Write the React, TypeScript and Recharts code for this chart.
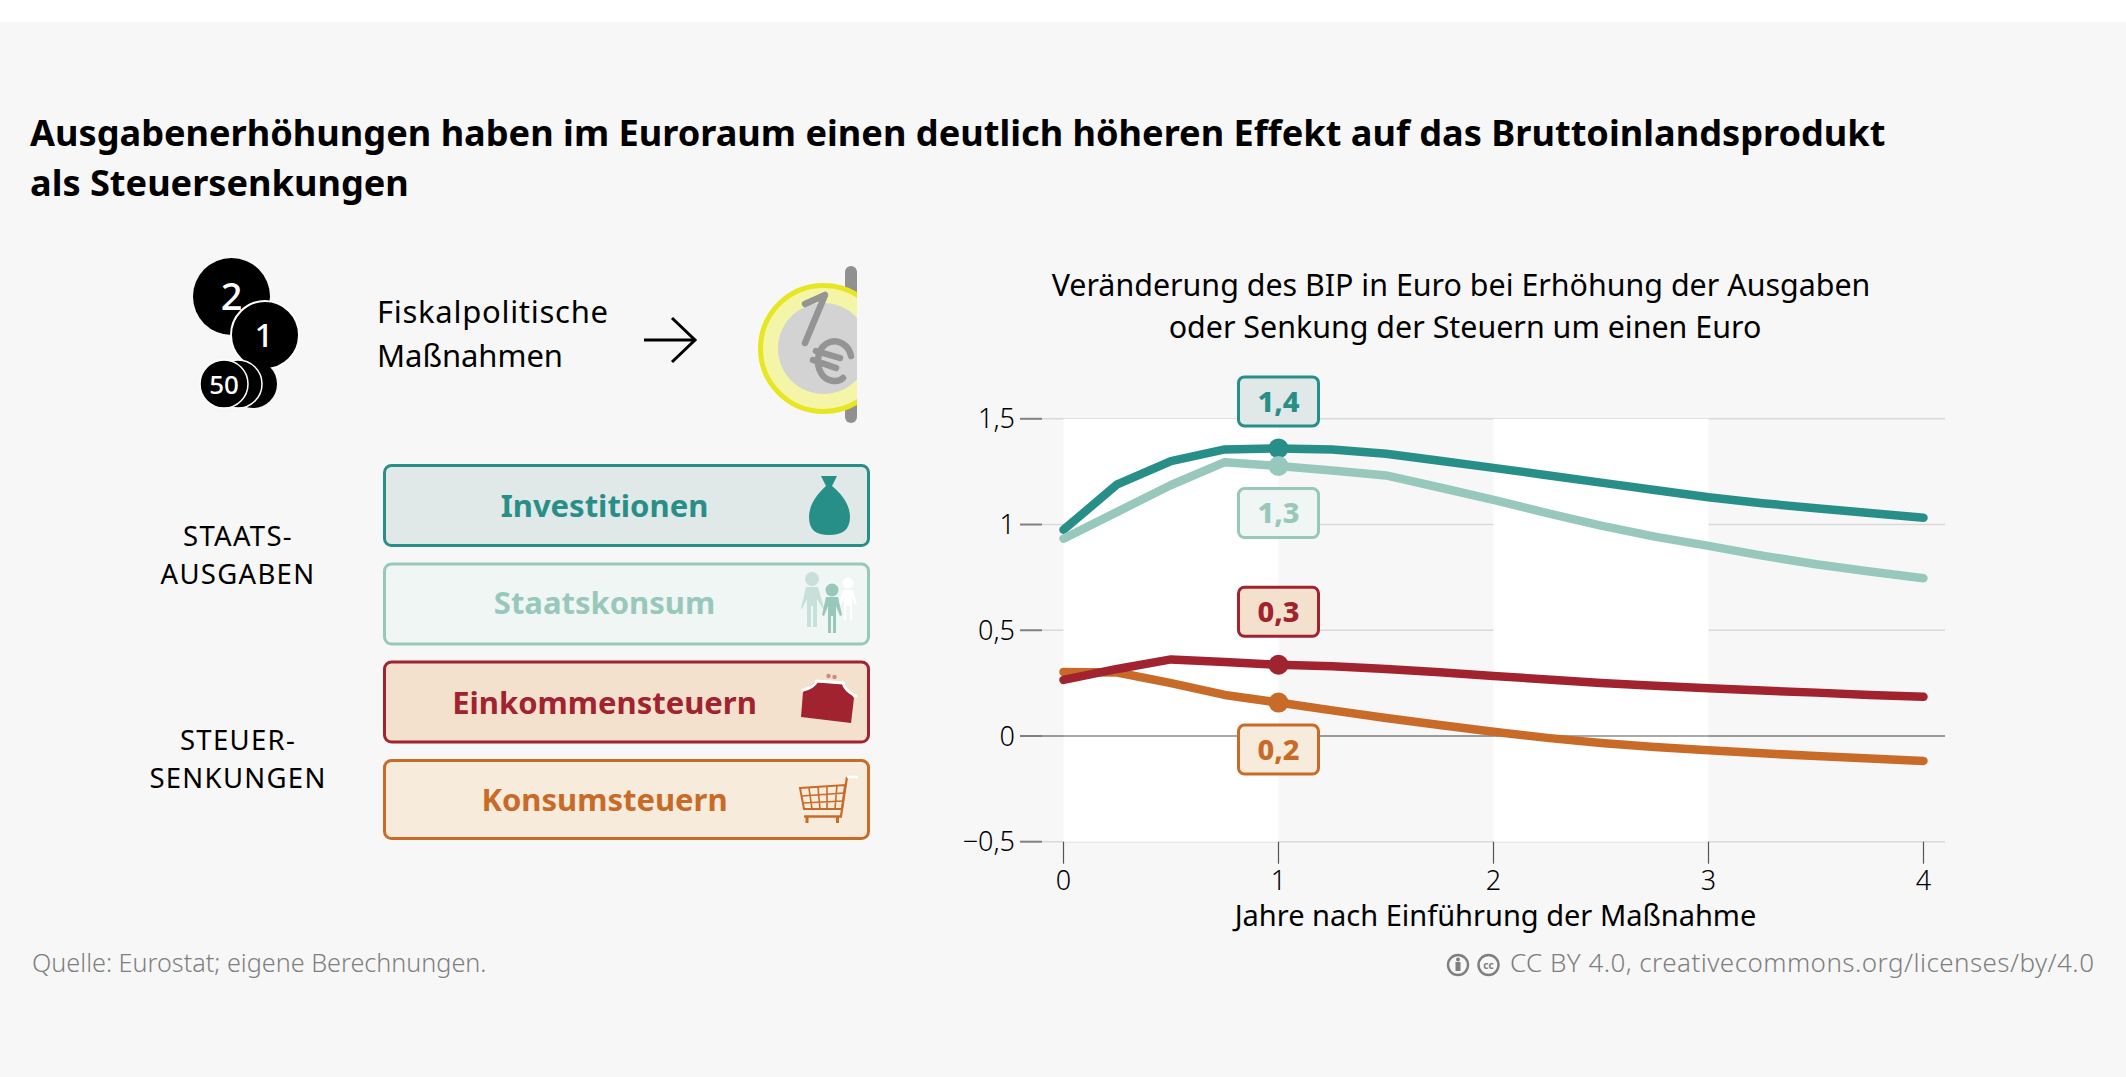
import React from "react";
import { ComposedChart, Line, XAxis, YAxis, CartesianGrid, ReferenceArea, ReferenceLine, Label } from "recharts";

const years = [0, 0.25, 0.5, 0.75, 1, 1.25, 1.5, 1.75, 2, 2.25, 2.5, 2.75, 3, 3.25, 3.5, 3.75, 4];
const investitionen = [0.975, 1.19, 1.3, 1.355, 1.36, 1.355, 1.335, 1.302, 1.268, 1.233, 1.198, 1.163, 1.129, 1.101, 1.077, 1.054, 1.032];
const staatskonsum = [0.933, 1.06, 1.187, 1.295, 1.277, 1.255, 1.232, 1.175, 1.117, 1.054, 0.995, 0.943, 0.899, 0.853, 0.812, 0.778, 0.746];
const einkommensteuern = [0.265, 0.317, 0.362, 0.35, 0.337, 0.33, 0.317, 0.301, 0.284, 0.267, 0.251, 0.238, 0.226, 0.215, 0.205, 0.194, 0.185];
const konsumsteuern = [0.303, 0.3, 0.25, 0.194, 0.158, 0.121, 0.085, 0.052, 0.02, -0.009, -0.033, -0.052, -0.068, -0.082, -0.095, -0.107, -0.118];
const xTicks = [0, 1, 2, 3, 4];
const yTicks = [-0.5, 0, 0.5, 1, 1.5];
const whiteBands = [[0, 1], [2, 3]];

const data = years.map((x, i) => ({
  x,
  investitionen: investitionen[i],
  staatskonsum: staatskonsum[i],
  einkommensteuern: einkommensteuern[i],
  konsumsteuern: konsumsteuern[i],
}));

const seriesDefs = [
  { key: "investitionen", name: "Investitionen", color: "#288f88", fill: "#e0e8e8", callout: "1,4", offset: -47 },
  { key: "staatskonsum", name: "Staatskonsum", color: "#97c8bb", fill: "#f0f6f4", callout: "1,3", offset: 47 },
  { key: "konsumsteuern", name: "Konsumsteuern", color: "#c96b28", fill: "#f7ebdc", callout: "0,2", offset: 47 },
  { key: "einkommensteuern", name: "Einkommensteuern", color: "#a0232f", fill: "#f4e1cd", callout: "0,3", offset: -53 },
];

const FONT = "'Noto Sans', sans-serif";

const legendRows = [
  { name: "Investitionen", color: "#288f88", fill: "#e0e8e8", y: 465.5, h: 80, ty: 516.5 },
  { name: "Staatskonsum", color: "#97c8bb", fill: "#f0f6f4", y: 564, h: 80, ty: 614 },
  { name: "Einkommensteuern", color: "#a0232f", fill: "#f4e1cd", y: 662, h: 80, ty: 714 },
  { name: "Konsumsteuern", color: "#c96b28", fill: "#f7ebdc", y: 760.5, h: 78, ty: 811 },
];

const sideLabels = [
  { text: "STAATS-", y: 545.5 },
  { text: "AUSGABEN", y: 583.5 },
  { text: "STEUER-", y: 750 },
  { text: "SENKUNGEN", y: 788 },
];

const makeDot = (color: string) => (props: any) => {
  const { cx, cy, index } = props;
  if (years[index] !== 1) return <g key={index} />;
  return <circle key={index} cx={cx} cy={cy} r={10} fill={color} />;
};

const makeLabel = (s: any) => (props: any) => {
  const { x, y, index } = props;
  if (years[index] !== 1) return <g key={index} />;
  const cy = y + s.offset;
  return (
    <g key={index}>
      <rect x={x - 40} y={cy - 24.5} width={80} height={49} rx={6} fill={s.fill} stroke={s.color} strokeWidth={3} />
      <text x={x} y={cy + 10.5} textAnchor="middle" fontFamily={FONT} fontWeight={800} fontSize={29} fill={s.color}>{s.callout}</text>
    </g>
  );
};

const fmt = (v: number) => (v < 0 ? "\u2212" : "") + String(Math.abs(v)).replace(".", ",");

function Decor() {
  return (
    <svg width={2126} height={1077} style={{ position: "absolute", left: 0, top: 0 }} fontFamily={FONT}>
      <rect x={0} y={22} width={2126} height={1055} fill="#f7f7f7" />
      <g fontWeight={700} fontSize={36.15} fill="#000">
        <text x={30} y={146}>Ausgabenerhöhungen haben im Euroraum einen deutlich höheren Effekt auf das Bruttoinlandsprodukt</text>
        <text x={30} y={196}>als Steuersenkungen</text>
      </g>
      <g fontWeight={400} fontSize={30.4} fill="#000" textAnchor="middle">
        <text x={1461} y={296}>Veränderung des BIP in Euro bei Erhöhung der Ausgaben</text>
        <text x={1465} y={338}>oder Senkung der Steuern um einen Euro</text>
      </g>

      {/* coins */}
      <g fontWeight={500} fill="#fff" textAnchor="middle">
        <circle cx={231.5} cy={296.5} r={38.5} fill="#000" />
        <text x={231.5} y={310} fontSize={38}>2</text>
        <circle cx={265} cy={335} r={34} fill="#000" stroke="#fff" strokeWidth={2} />
        <text x={264} y={347} fontSize={33}>1</text>
        <circle cx={253} cy={384} r={24} fill="#000" />
        <circle cx={238} cy={384} r={24} fill="#000" stroke="#fff" strokeWidth={1.5} />
        <circle cx={224} cy={384} r={24} fill="#000" stroke="#fff" strokeWidth={1.5} />
        <text x={224} y={394} fontSize={26}>50</text>
      </g>

      <g fontWeight={400} fontSize={31} fill="#000">
        <text x={377} y={323} textLength={231} lengthAdjust="spacing">Fiskalpolitische</text>
        <text x={377} y={367} textLength={186} lengthAdjust="spacing">Maßnahmen</text>
      </g>
      <path d="M644 340 H695 M672 318 L695 340 L672 362" fill="none" stroke="#000" strokeWidth={3} />

      {/* euro coin */}
      <rect x={845} y={266} width={12} height={157} rx={6} fill="#909090" />
      <clipPath id="coinClip"><rect x={740} y={260} width={117} height={170} /></clipPath>
      <g clipPath="url(#coinClip)">
        <circle cx={823.5} cy={348.5} r={63} fill="#f5f5a8" stroke="#e6e623" strokeWidth={5} />
        <circle cx={823.5} cy={348.5} r={45.5} fill="#d3d3d3" />
        <path d="M805 304 L825 295 L805 343" fill="none" stroke="#949494" strokeWidth={6.5} strokeLinecap="round" strokeLinejoin="round" />
        <path d="M851 356 C849 345 838 339 830 342 C818 346 815 362 821 373 C826 382 838 383 843 378 M816 351 L840 358 M813 360 L836 368" fill="none" stroke="#949494" strokeWidth={6.5} strokeLinecap="round" />
      </g>

      {/* side labels */}
      <g fontWeight={400} fontSize={27.5} fill="#000" textAnchor="middle" letterSpacing={1.3}>
        {sideLabels.map((s) => <text key={s.text} x={238} y={s.y}>{s.text}</text>)}
      </g>

      {/* boxes */}
      {legendRows.map((r) => (
        <g key={r.name}>
          <rect x={384.5} y={r.y} width={484} height={r.h} rx={7} fill={r.fill} stroke={r.color} strokeWidth={3} />
          <text x={604.5} y={r.ty} textAnchor="middle" fontWeight={700} fontSize={31} fill={r.color}>{r.name}</text>
        </g>
      ))}

      {/* bag */}
      <path d="M821 476 H837 L832 486 C842 494 850 505 850 517 C850 530 842 535 829 535 C816 535 809 530 809 517 C809 505 817 494 826 486 Z" fill="#288f88" />

      {/* people */}
      <g fill="#fff">
        <circle cx={848} cy={583} r={5.5} />
        <path d="M843 590 H853 L857 604 L855 605 L852 597 V620 H850 V606 H846 V620 H844 V597 L841 605 L839 604 Z" />
      </g>
      <g fill="#c7e0da">
        <circle cx={812} cy={579} r={7} />
        <path d="M806 587 H818 L824 608 L823 609 L817 599 V627 H813 V606 H811 V627 H807 V599 L802 609 L801 608 Z" />
      </g>
      <g fill="#97c8bb">
        <circle cx={832} cy={590} r={6.5} />
        <path d="M826 597 H838 L842 615 L840 616 L836 606 V633 H833 V616 H831 V633 H828 V606 L824 616 L822 615 Z" />
      </g>

      {/* purse */}
      <path d="M803 692 L815 682 L843 684 L854 698 L851 723 L801 717 Z" fill="#a0232f" />
      <path d="M803 690 Q813 688 817 681 L843 683 Q845 691 856 696" fill="none" stroke="#fff" strokeWidth={3} strokeLinecap="round" />
      <circle cx={828.5} cy={676} r={2.2} fill="#c98b80" />
      <circle cx={834.5} cy={677} r={2.2} fill="#c98b80" />

      {/* cart */}
      <g fill="none" stroke="#c96b28" strokeWidth={1.6}>
        <path d="M800 788 L845 785 L842 809 L804 809 Z" strokeWidth={2} />
        <path d="M802 796 L844 793 M803 803 L843 801 M809 788 L812 809 M818 787 L820 809 M827 786 L827 809 M837 785 L835 809" />
        <path d="M841 816 L847 777" strokeWidth={2.2} />
        <path d="M804 816.5 H842" strokeWidth={2.4} />
        <path d="M807 817 V823 M837.5 817 V823" strokeWidth={3} />
      </g>
      <path d="M847 777 H858" stroke="#fff" strokeWidth={2.5} />

      {/* footer */}
      <text x={32} y={972} fontWeight={300} fontSize={25.2} fill="#7f7f7f">Quelle: Eurostat; eigene Berechnungen.</text>
      <g fill="none" stroke="#7f7f7f" strokeWidth={2.4}>
        <circle cx={1458} cy={965} r={10} />
        <circle cx={1488.5} cy={965} r={10} />
      </g>
      <circle cx={1458} cy={959.5} r={2} fill="#7f7f7f" />
      <rect x={1455.5} y={962} width={5} height={9} fill="#7f7f7f" />
      <text x={1488.5} y={968.5} textAnchor="middle" fontWeight={700} fontSize={10} fill="#7f7f7f">cc</text>
      <text x={1510} y={972} fontWeight={300} fontSize={26} fill="#7f7f7f" textLength={584} lengthAdjust="spacing">CC BY 4.0, creativecommons.org/licenses/by/4.0</text>
    </svg>
  );
}

export default function App() {
  const tick = { fontFamily: FONT, fontWeight: 300, fontSize: 27, fill: "#000" };
  return (
    <div style={{ position: "absolute", left: 0, top: 0, width: 2126, height: 1077, overflow: "hidden", background: "#fff" }}>
      <Decor />
      <div style={{ position: "absolute", left: 0, top: 0 }}>
        <ComposedChart width={2126} height={1077} data={data} margin={{ top: 418.8, right: 181, bottom: 145.3, left: 0 }}>
          {whiteBands.map(([a, b]) => (
            <ReferenceArea key={a} x1={a} x2={b} y1={-0.5} y2={1.5} fill="#ffffff" fillOpacity={1} stroke="none" />
          ))}
          <CartesianGrid vertical={false} stroke="#d9d9d9" strokeWidth={1.5} />
          <ReferenceLine y={0} stroke="#555" strokeWidth={1.2} />
          <XAxis
            type="number"
            dataKey="x"
            domain={[-0.1, 4.1]}
            ticks={xTicks}
            allowDataOverflow
            axisLine={false}
            tickSize={22}
            tickMargin={7}
            tickLine={{ stroke: "#555", strokeWidth: 1.2 }}
            tick={tick}
            height={90}
          >
            <Label value="Jahre nach Einführung der Maßnahme" position="insideBottom" offset={6} dx={2} style={{ fontFamily: FONT, fontWeight: 400, fontSize: 29, fill: "#000" }} />
          </XAxis>
          <YAxis
            type="number"
            domain={[-0.5, 1.5]}
            ticks={yTicks}
            width={1042}
            axisLine={false}
            tickSize={22}
            tickMargin={5}
            tickLine={{ stroke: "#808080", strokeWidth: 2 }}
            tick={tick}
            tickFormatter={fmt}
          />
          {seriesDefs.map((s) => (
            <Line
              key={s.key}
              dataKey={s.key}
              name={s.name}
              type="linear"
              stroke={s.color}
              strokeWidth={8.5}
              strokeLinecap="round"
              strokeLinejoin="round"
              dot={makeDot(s.color)}
              activeDot={false}
              label={makeLabel(s)}
              isAnimationActive={false}
            />
          ))}
        </ComposedChart>
      </div>
    </div>
  );
}
